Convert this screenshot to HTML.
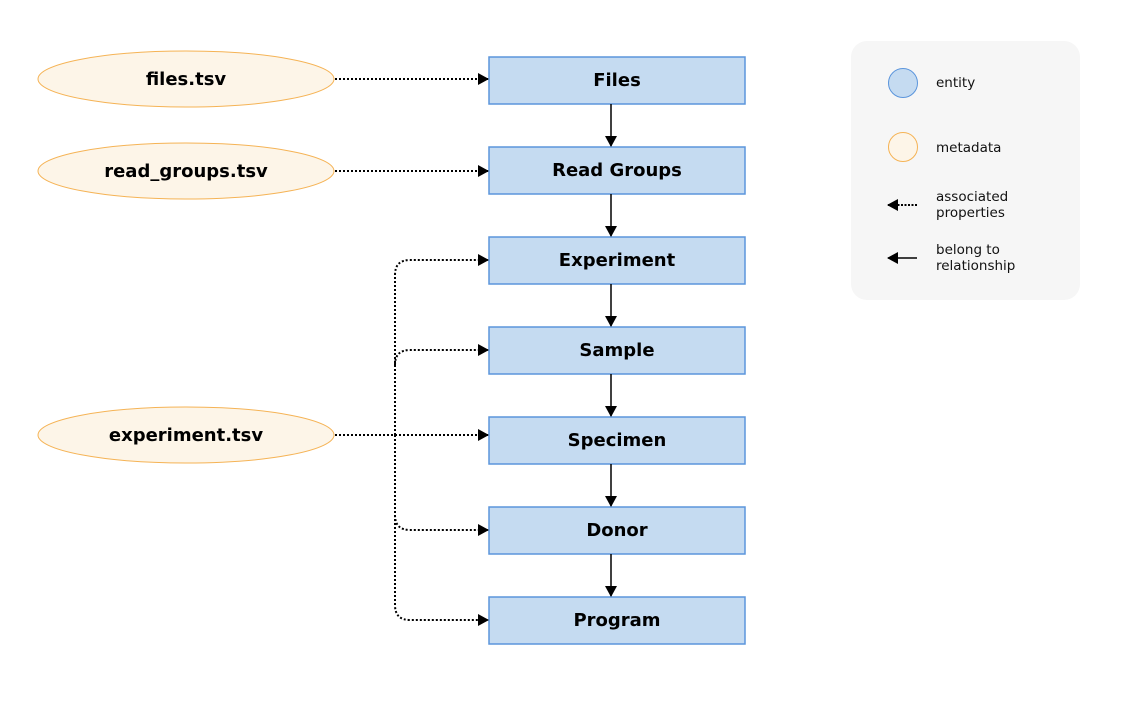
<!DOCTYPE html>
<html><head><style>
body{margin:0;background:#fff;}
svg{display:block;}
text{font-family:"DejaVu Sans","Liberation Sans",sans-serif;}
</style></head><body>
<svg width="1123" height="709" viewBox="0 0 1123 709" xmlns="http://www.w3.org/2000/svg">
<defs>
<marker id="a" markerWidth="11" markerHeight="12" refX="10" refY="6" orient="auto" markerUnits="userSpaceOnUse">
<path d="M0,0 L11,6 L0,12 Z" fill="#000"/></marker>
</defs>
<g fill="#fdf5e8" stroke="#f5b355" stroke-width="1">
<ellipse cx="186" cy="79" rx="148" ry="28"/>
<ellipse cx="186" cy="171" rx="148" ry="28"/>
<ellipse cx="186" cy="435" rx="148" ry="28"/>
</g>
<g font-weight="bold" font-size="18" text-anchor="middle" fill="#000">
<text x="186" y="85">files.tsv</text>
<text x="186" y="177">read_groups.tsv</text>
<text x="186" y="441">experiment.tsv</text>
</g>
<g fill="#c5dbf1" stroke="#5b95dc" stroke-width="1.5">
<rect x="489" y="57" width="256" height="47"/>
<rect x="489" y="147" width="256" height="47"/>
<rect x="489" y="237" width="256" height="47"/>
<rect x="489" y="327" width="256" height="47"/>
<rect x="489" y="417" width="256" height="47"/>
<rect x="489" y="507" width="256" height="47"/>
<rect x="489" y="597" width="256" height="47"/>
</g>
<g font-weight="bold" font-size="18" text-anchor="middle" fill="#000">
<text x="617" y="86">Files</text>
<text x="617" y="176">Read Groups</text>
<text x="617" y="266">Experiment</text>
<text x="617" y="356">Sample</text>
<text x="617" y="446">Specimen</text>
<text x="617" y="536">Donor</text>
<text x="617" y="626">Program</text>
</g>
<g stroke="#000" stroke-width="1.5" marker-end="url(#a)">
<line x1="611" y1="104" x2="611" y2="146"/>
<line x1="611" y1="194" x2="611" y2="236"/>
<line x1="611" y1="284" x2="611" y2="326"/>
<line x1="611" y1="374" x2="611" y2="416"/>
<line x1="611" y1="464" x2="611" y2="506"/>
<line x1="611" y1="554" x2="611" y2="596"/>
</g>
<g stroke="#000" stroke-width="2" stroke-dasharray="2,2" fill="none" marker-end="url(#a)">
<line x1="335" y1="79" x2="488" y2="79"/>
<line x1="335" y1="171" x2="488" y2="171"/>
<line x1="335" y1="435" x2="488" y2="435"/>
<path d="M395,435 L395,275 Q395,260 410,260 L488,260"/>
<path d="M395,365 Q395,350 410,350 L488,350"/>
<path d="M395,435 L395,515 Q395,530 410,530 L488,530"/>
<path d="M395,515 L395,605 Q395,620 410,620 L488,620"/>
</g>
<rect x="851" y="41" width="229" height="259" rx="16" fill="#f6f6f6"/>
<circle cx="903" cy="83" r="14.5" fill="#c5dbf1" stroke="#5b95dc"/>
<circle cx="903" cy="147" r="14.5" fill="#fdf5e8" stroke="#f5b355"/>
<line x1="917" y1="205" x2="888" y2="205" stroke="#000" stroke-width="2" stroke-dasharray="2,1.5" marker-end="url(#a)"/>
<line x1="917" y1="258" x2="888" y2="258" stroke="#000" stroke-width="1.5" marker-end="url(#a)"/>
<g font-size="13.5" fill="#111">
<text x="936" y="87">entity</text>
<text x="936" y="152">metadata</text>
<text x="936" y="201">associated</text>
<text x="936" y="217">properties</text>
<text x="936" y="254">belong to</text>
<text x="936" y="270">relationship</text>
</g>
</svg>
</body></html>
